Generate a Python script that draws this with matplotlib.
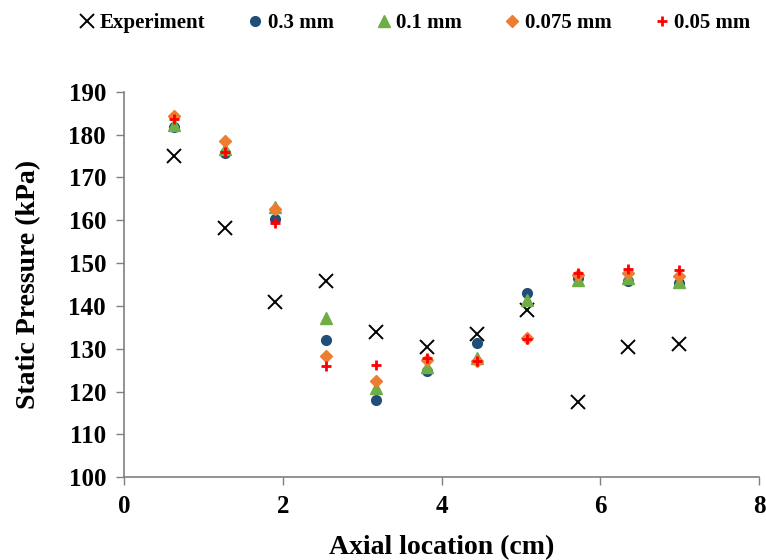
import matplotlib
matplotlib.use("Agg")
import matplotlib.pyplot as plt

plt.rcParams['font.family'] = ['Liberation Serif', 'DejaVu Serif']
plt.rcParams['font.weight'] = 'bold'

# axial locations (cm)
x = [0.635, 1.27, 1.905, 2.54, 3.175, 3.81, 4.445, 5.08, 5.715, 6.35, 6.985]

experiment = [175.0, 158.3, 141.0, 145.7, 134.0, 130.4, 133.4, 139.0, 117.6, 130.4, 131.0]
p_03 = [181.8, 175.6, 160.2, 132.0, 117.9, 124.7, 131.3, 142.9, 146.4, 145.8, 145.3]
p_01 = [182.3, 176.6, 163.0, 137.2, 120.9, 125.7, 127.9, 141.3, 146.1, 146.4, 145.6]
p_0075 = [184.4, 178.5, 162.6, 128.4, 122.4, 127.3, 127.1, 132.6, 147.1, 147.6, 147.0]
p_005 = [183.6, 175.9, 159.3, 125.9, 126.1, 127.9, 127.1, 132.2, 147.6, 148.5, 148.4]

fig = plt.figure(figsize=(7.66, 5.60), dpi=100)
ax = fig.add_axes([0.162, 0.148, 0.829, 0.688])

ax.plot(x, experiment, ls='none', marker='x', ms=10, mew=1.4, c='black', label='Experiment')
ax.plot(x, p_03, ls='none', marker='o', ms=7, c='#1f4e79', label='0.3 mm')
ax.plot(x, p_01, ls='none', marker='^', ms=8, c='#70ad47', label='0.1 mm')
ax.plot(x, p_0075, ls='none', marker='D', ms=6.5, c='#ed7d31', label='0.075 mm')
ax.plot(x, p_005, ls='none', marker='+', ms=7, mew=2, c='#ff0000', label='0.05 mm')

ax.set_xlim(0, 8)
ax.set_ylim(100, 190)
ax.set_xticks([0, 2, 4, 6, 8])
ax.set_yticks(range(100, 191, 10))
for s in ['top', 'right']:
    ax.spines[s].set_visible(False)
for s in ['left', 'bottom']:
    ax.spines[s].set_color('#808080')
    ax.spines[s].set_linewidth(1.2)
ax.tick_params(direction='out', length=6, width=1, color='#808080', labelsize=18, pad=7)
for lab in ax.get_xticklabels() + ax.get_yticklabels():
    lab.set_fontweight('bold')

ax.set_xlabel('Axial location (cm)', fontsize=20, fontweight='bold', labelpad=12)
ax.set_ylabel('Static Pressure (kPa)', fontsize=20, fontweight='bold', labelpad=20)

fig.legend(loc='upper center', bbox_to_anchor=(0.54, 1.01), ncol=5, frameon=False,
           prop={'size': 15, 'weight': 'bold'}, handletextpad=0.1, columnspacing=1.9,
           handlelength=1.0)

fig.savefig('out.png', dpi=100)
